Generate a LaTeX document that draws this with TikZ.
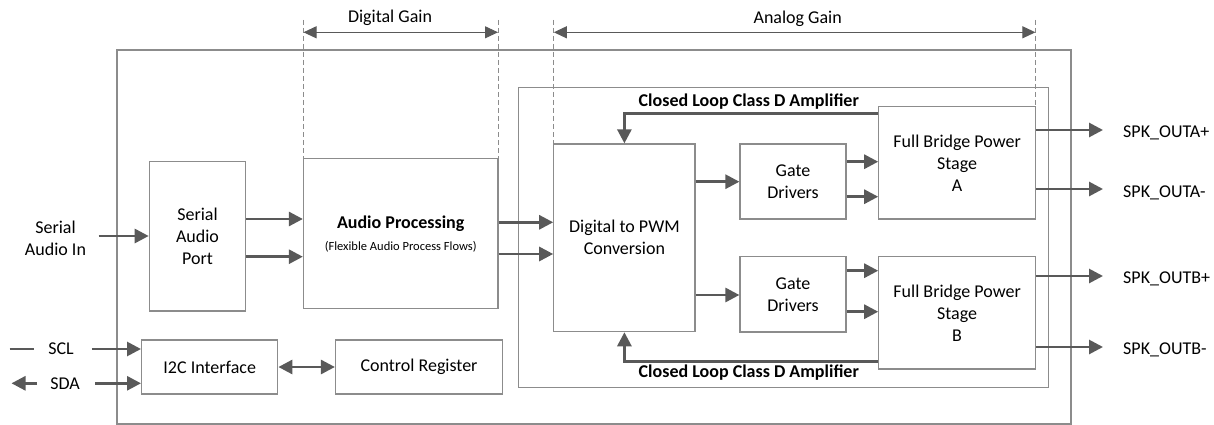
\documentclass[tikz,border=0pt]{standalone}
\usepackage{fontspec}
\setmainfont{Carlito}
\usetikzlibrary{arrows.meta}
\definecolor{boxgray}{HTML}{8C8C8C}
\definecolor{arrgray}{HTML}{595959}
\begin{document}
\begin{tikzpicture}[x=1pt,y=-1pt,
  every node/.style={font=\fontsize{18}{22}\selectfont, text=black},
  blk/.style={draw=boxgray, line width=1.2pt, inner sep=0pt, align=center},
  arr/.style={draw=arrgray, line width=2.8pt, -{Triangle[length=14pt,width=14pt]}},
  darr/.style={draw=arrgray, line width=2.8pt, {Triangle[length=14pt,width=14pt]}-{Triangle[length=14pt,width=14pt]}},
  plainline/.style={draw=arrgray, line width=2.8pt},
  gain/.style={draw=arrgray, line width=1pt, {Triangle[length=13pt,width=12pt]}-{Triangle[length=13pt,width=12pt]}},
  dashln/.style={draw=boxgray, line width=0.9pt, dash pattern=on 5pt off 3pt},
  lbl/.style={inner sep=0pt, align=center},
  boldlbl/.style={inner sep=0pt, font=\fontsize{18}{22}\selectfont\bfseries}
]
\useasboundingbox (0,0) rectangle (1214,425);

% containers
\node[blk, minimum width=954pt, minimum height=374pt] (outer) at (594,237) {};
\node[blk, minimum width=530pt, minimum height=300pt] (cl) at (783.6,237.8) {};

% blocks
\node[blk, minimum width=96.4pt, minimum height=149.7pt] (sap) at (197.5,236.2) {Serial\\Audio\\Port};
\node[blk, minimum width=194.5pt, minimum height=150pt] (ap) at (400.7,233.3) {};
\node[boldlbl] (aptitle) at (400.7,223.3) {Audio Processing};
\node[lbl, font=\fontsize{12.5}{15}\selectfont] (apsub) at (400.7,246.7) {(Flexible Audio Process Flows)};
\node[blk, minimum width=141.2pt, minimum height=187.7pt] (dpwm) at (624.4,237.8) {Digital to PWM\\Conversion};
\node[blk, minimum width=106pt, minimum height=75pt] (gda) at (793,181.5) {Gate\\Drivers};
\node[blk, minimum width=106pt, minimum height=75.3pt] (gdb) at (793,294.3) {Gate\\Drivers};
\node[blk, minimum width=156.6pt, minimum height=112.3pt] (fba) at (957.1,162.8) {Full Bridge Power\\Stage\\A};
\node[blk, minimum width=156.6pt, minimum height=112.3pt] (fbb) at (957.1,312.8) {Full Bridge Power\\Stage\\B};
\node[blk, minimum width=136.2pt, minimum height=54pt] (i2c) at (209.7,367) {I2C Interface};
\node[blk, minimum width=167pt, minimum height=54pt] (cr) at (419,367) {Control Register};

% closed loop titles
\node[boldlbl] (cltop) at (748.8,102) {Closed Loop Class D Amplifier};
\node[boldlbl] (clbot) at (748.8,372.7) {Closed Loop Class D Amplifier};

% gain markers
\coordinate (dgl) at (303.5,20);
\coordinate (dgr) at (498,20);
\coordinate (agl) at (553.8,20);
\coordinate (agr) at (1035.4,20);
\draw[dashln] (dgl) -- (dgl |- ap.north);
\draw[dashln] (dgr) -- (dgr |- ap.north);
\draw[dashln] (agl) -- (agl |- dpwm.north);
\draw[dashln] (agr) -- (agr |- fba.north);
\draw[gain] ([yshift=-12.3pt]dgl) -- ([yshift=-12.3pt]dgr);
\draw[gain] ([yshift=-12.3pt]agl) -- ([yshift=-12.3pt]agr);
\node[lbl] (dgtext) at (390,17.3) {Digital Gain};
\node[lbl] (agtext) at (797.7,19) {Analog Gain};

% inputs
\node[lbl] (sain) at (55.5,238.3) {Serial\\Audio In};
\coordinate (sainend) at (98.7,236);
\draw[arr] (sainend) -- (sap.west |- sainend);

\node[lbl] (scl) at (61,349) {SCL};
\node[lbl] (sda) at (65,383.3) {SDA};
\coordinate (scll) at (9.6,349);
\coordinate (sclr) at (34.4,349);
\draw[plainline] (scll) -- (sclr);
\coordinate (sdal) at (11.5,383.3);
\coordinate (sdar) at (37,383.3);
\draw[arr] (sdar) -- (sdal);
\coordinate (sclin) at (91.8,349);
\coordinate (sdain) at (95,383.3);
\draw[arr] (sclin) -- (i2c.west |- sclin);
\draw[arr] (sdain) -- (i2c.west |- sdain);
\draw[darr] (i2c.east) -- (cr.west);

% data path
\draw[arr] (sap.east |- 0,219) -- (ap.west |- 0,219);
\draw[arr] (sap.east |- 0,256.7) -- (ap.west |- 0,256.7);
\draw[arr] (ap.east |- 0,222.3) -- (dpwm.west |- 0,222.3);
\draw[arr] (ap.east |- 0,254) -- (dpwm.west |- 0,254);
\draw[arr] (dpwm.east |- 0,181.7) -- (gda.west |- 0,181.7);
\draw[arr] (dpwm.east |- 0,295) -- (gdb.west |- 0,295);
\draw[arr] (gda.east |- 0,161.7) -- (fba.west |- 0,161.7);
\draw[arr] (gda.east |- 0,196.7) -- (fba.west |- 0,196.7);
\draw[arr] (gdb.east |- 0,270.7) -- (fbb.west |- 0,270.7);
\draw[arr] (gdb.east |- 0,311.7) -- (fbb.west |- 0,311.7);

% feedback
\draw[arr] (fba.west |- 0,113.5) -| (dpwm.north -| 624.4,0);
\draw[arr] (fbb.west |- 0,361.7) -| (dpwm.south -| 624.4,0);

% outputs
\coordinate (oap) at (1103,130);
\coordinate (oam) at (1103,189);
\coordinate (obp) at (1103,276);
\coordinate (obm) at (1103,347);
\draw[arr] (fba.east |- oap) -- (oap);
\draw[arr] (fba.east |- oam) -- (oam);
\draw[arr] (fbb.east |- obp) -- (obp);
\draw[arr] (fbb.east |- obm) -- (obm);
\node[lbl, anchor=west] (loap) at (1123,133) {SPK\_OUTA+};
\node[lbl, anchor=west] (loam) at (1123,193) {SPK\_OUTA-};
\node[lbl, anchor=west] (lobp) at (1123,279) {SPK\_OUTB+};
\node[lbl, anchor=west] (lobm) at (1123,350) {SPK\_OUTB-};
\end{tikzpicture}
\end{document}
